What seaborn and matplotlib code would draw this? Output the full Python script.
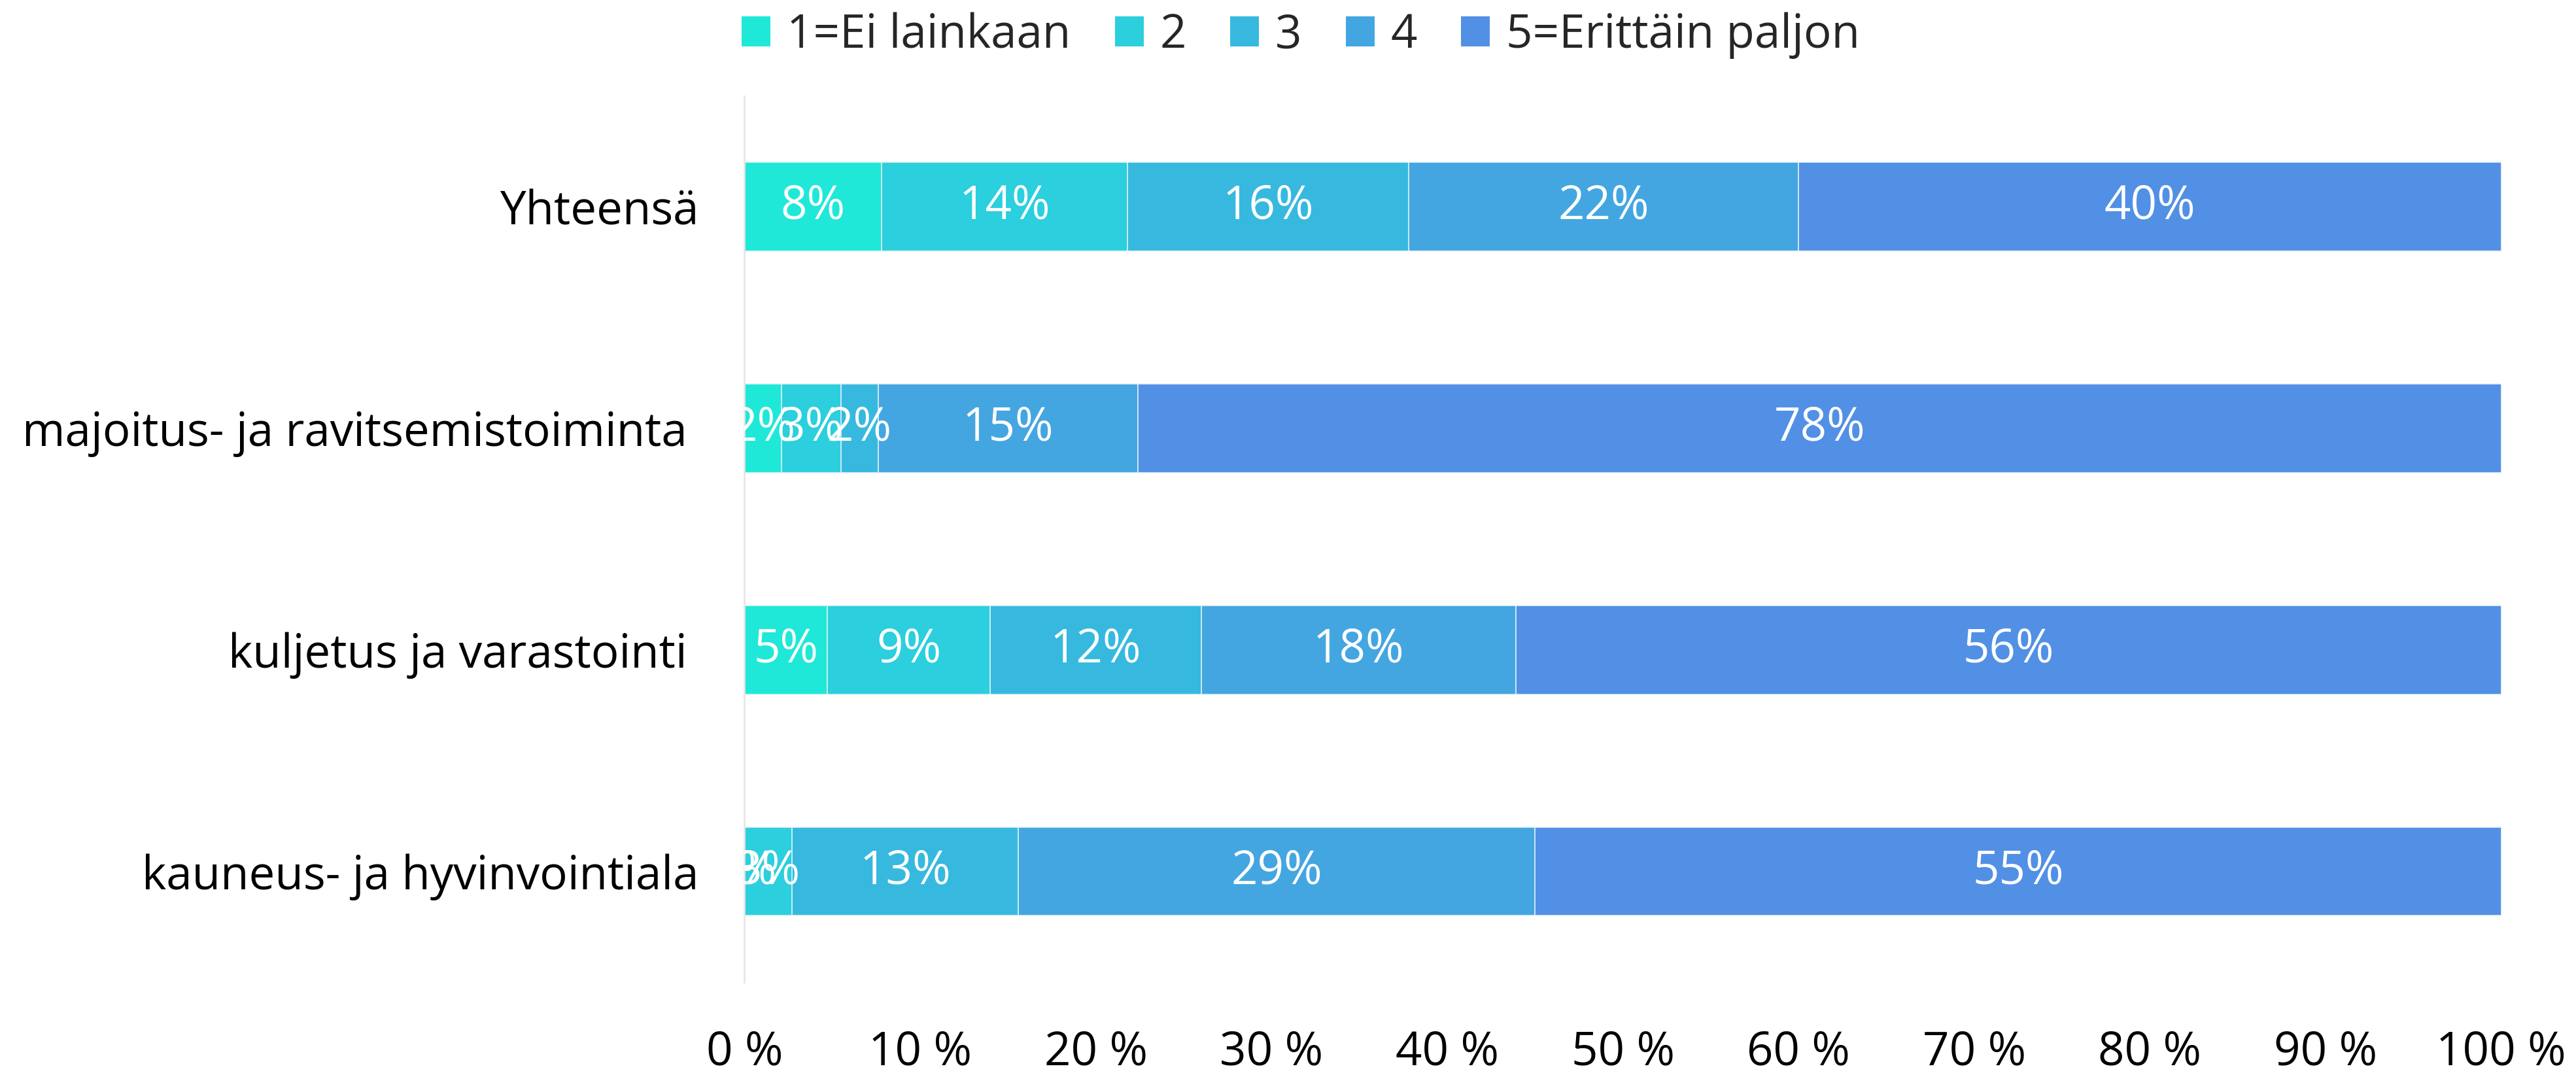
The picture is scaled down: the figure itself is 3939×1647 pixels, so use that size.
import numpy as np
import pandas as pd
import matplotlib
matplotlib.use('Agg')
import matplotlib.pyplot as plt
from matplotlib.patches import Patch
import seaborn as sns


categories = ['Yhteensä', 'majoitus- ja ravitsemistoiminta ', 'kuljetus ja varastointi ', 'kauneus- ja hyvinvointiala']
series_names = ['1=Ei lainkaan', '2', '3', '4', '5=Erittäin paljon']
s1 = [7.8, 2.1, 4.7, 0.0]
s2 = [14.0, 3.4, 9.3, 2.7]
s3 = [16.0, 2.1, 12.0, 12.9]
s4 = [22.2, 14.8, 17.9, 29.4]
s5 = [40.0, 77.6, 56.1, 55.0]
colors = ['#20E8D8', '#2BCFDD', '#37B9DF', '#44A6E1', '#5290E5']
x_ticks = list(range(0, 101, 10))

sns.set_theme(style='white')
plt.rcParams['font.family'] = ['Open Sans', 'DejaVu Sans']
FS = 51

values = np.array([s1, s2, s3, s4, s5])
cum = values.cumsum(axis=0)

fig, ax = plt.subplots(figsize=(39.39, 16.47), dpi=100)
fig.subplots_adjust(left=0.289, right=0.971, top=0.911, bottom=0.088)

# draw cumulative totals from largest to smallest so each segment shows
for i in range(len(series_names) - 1, -1, -1):
    df = pd.DataFrame({'cat': categories, 'val': cum[i]})
    sns.barplot(data=df, x='val', y='cat', color=colors[i], width=0.4,
                orient='h', saturation=1, edgecolor='#E8F4F6', linewidth=1.2, ax=ax)

for i in range(len(series_names)):
    starts = cum[i] - values[i]
    for j, cat in enumerate(categories):
        ax.text(starts[j] + values[i][j] / 2, j, f'{values[i][j]:.0f}%',
                ha='center', va='center', color='white', fontsize=FS, clip_on=True)

ax.set_xlim(0, 100)
ax.set_ylim(3.5, -0.5)
ax.set_xticks(x_ticks)
ax.set_xticklabels([f'{t} %' for t in x_ticks])
ax.set_xlabel('')
ax.set_ylabel('')
ax.tick_params(axis='x', length=0, pad=52, labelsize=FS, colors='black')
ax.tick_params(axis='y', length=0, pad=50, labelsize=FS, colors='black')
for s in ['top', 'right', 'bottom']:
    ax.spines[s].set_visible(False)
ax.spines['left'].set_color('#E6E6E6')
ax.spines['left'].set_linewidth(2)

handles = [Patch(facecolor=c, edgecolor='none') for c in colors]
fig.legend(handles, series_names, loc='center', bbox_to_anchor=(0.505, 0.967), ncol=5,
           frameon=False, fontsize=FS, handlelength=0.62, handleheight=0.62,
           handletextpad=0.35, columnspacing=0.95)

fig.savefig('out.png', dpi=100)
